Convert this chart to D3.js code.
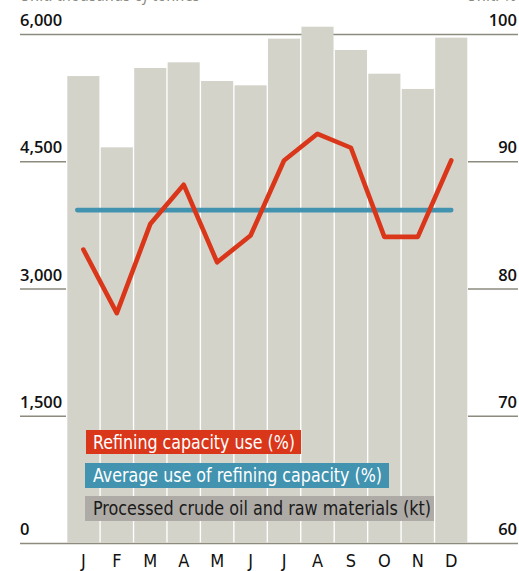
<!DOCTYPE html>
<html>
<head>
<meta charset="utf-8">
<script src="https://cdn.jsdelivr.net/npm/d3@7/dist/d3.min.js"></script>
<style>
  html, body { margin: 0; padding: 0; background: #ffffff; }
  svg { display: block; }
</style>
</head>
<body>
<svg id="chart" width="519" height="571"></svg>
<script>
// Monthly refinery figures
const months = ["J", "F", "M", "A", "M", "J", "J", "A", "S", "O", "N", "D"];
const processed = [5510, 4670, 5605, 5672, 5452, 5401, 5951, 6092, 5817, 5538, 5358, 5963]; // kt
const capacityUse = [83.1, 78.1, 85.1, 88.2, 82.1, 84.2, 90.1, 92.2, 91.1, 84.1, 84.1, 90.1]; // %
const averageUse = 86.2; // %
const leftTicks = [0, 1500, 3000, 4500, 6000];
const rightTicks = [60, 70, 80, 90, 100];
const legendLabels = [
  "Refining capacity use (%)",
  "Average use of refining capacity (%)",
  "Processed crude oil and raw materials (kt)"
];

const colors = {
  bar: "#d4d3ca",
  red: "#d9361a",
  blue: "#4193b0",
  legendGrey: "#aeaba6",
  rule: "#8c8b7e",
  unit: "#8a8a80"
};

const svg = d3.select("#chart");
const numFont = "'Open Sans', 'Noto Sans', sans-serif";
const condFont = "'Liberation Sans Narrow', 'DejaVu Sans Condensed', 'Roboto', sans-serif";

const x = d3.scaleBand()
  .domain(d3.range(months.length))
  .range([67.3, 467.3])
  .paddingInner(0.04)
  .paddingOuter(0);

const yL = d3.scaleLinear().domain([0, 6000]).range([543.5, 34.5]);
const yR = d3.scaleLinear().domain([60, 100]).range([543.5, 34.5]);
const center = i => x(i) + x.bandwidth() / 2;

// Unit captions along the top edge
svg.append("text")
  .attr("x", 20).attr("y", 1)
  .attr("font-family", numFont).attr("font-style", "italic")
  .attr("font-size", 16).attr("fill", colors.unit)
  .attr("textLength", 180).attr("lengthAdjust", "spacingAndGlyphs")
  .text("Unit: thousands of tonnes");
svg.append("text")
  .attr("x", 517).attr("y", 1).attr("text-anchor", "end")
  .attr("font-family", numFont).attr("font-style", "italic")
  .attr("font-size", 16).attr("fill", colors.unit)
  .text("Unit: %");

// Full-width rules at the top and bottom of the scale
svg.selectAll("line.full")
  .data([0, 6000])
  .join("line")
  .attr("class", "full")
  .attr("x1", 20).attr("x2", 518)
  .attr("y1", d => yL(d)).attr("y2", d => yL(d))
  .attr("stroke", colors.rule).attr("stroke-width", 1.4);

// Short rules for the inner ticks, left and right
svg.selectAll("line.tl")
  .data(leftTicks.slice(1, -1))
  .join("line")
  .attr("class", "tl")
  .attr("x1", 20).attr("x2", 66)
  .attr("y1", d => yL(d)).attr("y2", d => yL(d))
  .attr("stroke", colors.rule).attr("stroke-width", 1.4);
svg.selectAll("line.tr")
  .data(rightTicks.slice(1, -1))
  .join("line")
  .attr("class", "tr")
  .attr("x1", 468).attr("x2", 518)
  .attr("y1", d => yR(d)).attr("y2", d => yR(d))
  .attr("stroke", colors.rule).attr("stroke-width", 1.4);

// Bars: processed crude oil
svg.selectAll("rect.bar")
  .data(processed)
  .join("rect")
  .attr("class", "bar")
  .attr("x", (d, i) => x(i))
  .attr("width", x.bandwidth())
  .attr("y", d => yL(d))
  .attr("height", d => yL(0) - yL(d) - 0.6)
  .attr("fill", colors.bar);

// Axis labels
svg.selectAll("text.yl")
  .data(leftTicks)
  .join("text")
  .attr("class", "yl")
  .attr("x", 20).attr("y", d => yL(d) - 8.5)
  .attr("font-family", numFont).attr("font-size", 16.5)
  .attr("font-weight", 600).attr("fill", "#111")
  .text(d => d3.format(",")(d));
svg.selectAll("text.yr")
  .data(rightTicks)
  .join("text")
  .attr("class", "yr")
  .attr("x", 517).attr("y", d => yR(d) - 8.5)
  .attr("text-anchor", "end")
  .attr("font-family", numFont).attr("font-size", 16.5)
  .attr("font-weight", 600).attr("fill", "#111")
  .text(d => d);

svg.selectAll("text.month")
  .data(months)
  .join("text")
  .attr("class", "month")
  .attr("x", (d, i) => center(i)).attr("y", 567)
  .attr("text-anchor", "middle")
  .attr("font-family", condFont).attr("font-size", 18).attr("fill", "#111")
  .text(d => d);

// Average capacity use
svg.append("line")
  .attr("x1", x(0) + 10).attr("x2", center(months.length - 1))
  .attr("y1", yR(averageUse)).attr("y2", yR(averageUse))
  .attr("stroke", colors.blue).attr("stroke-width", 4.6)
  .attr("stroke-linecap", "round");

// Monthly capacity use
const line = d3.line()
  .x((d, i) => center(i))
  .y(d => yR(d));
svg.append("path")
  .datum(capacityUse)
  .attr("d", line)
  .attr("fill", "none")
  .attr("stroke", colors.red).attr("stroke-width", 4.6)
  .attr("stroke-linejoin", "round").attr("stroke-linecap", "round");

// Legend
const legend = [
  { label: legendLabels[0], fill: colors.red, text: "#ffffff", box: [86, 430, 215, 24], tl: 202, base: 449 },
  { label: legendLabels[1], fill: colors.blue, text: "#ffffff", box: [85, 463, 304, 25], tl: 289, base: 481.7 },
  { label: legendLabels[2], fill: colors.legendGrey, text: "#1a1a1a", box: [85, 496, 349, 25], tl: 338, base: 514.5 }
];
const lg = svg.selectAll("g.legend").data(legend).join("g").attr("class", "legend");
lg.append("rect")
  .attr("x", d => d.box[0]).attr("y", d => d.box[1])
  .attr("width", d => d.box[2]).attr("height", d => d.box[3])
  .attr("fill", d => d.fill);
lg.append("text")
  .attr("x", 93).attr("y", d => d.base)
  .attr("font-family", condFont).attr("font-size", 19)
  .attr("fill", d => d.text)
  .attr("textLength", d => d.tl).attr("lengthAdjust", "spacingAndGlyphs")
  .text(d => d.label);
</script>
</body>
</html>
